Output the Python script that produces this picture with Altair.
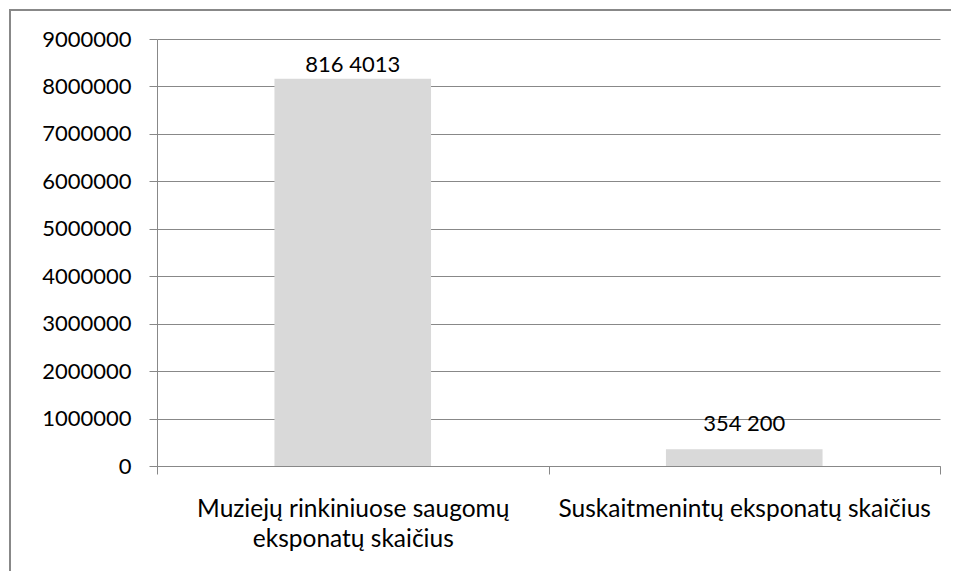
import altair as alt
import pandas as pd

categories = ["Muziejų rinkiniuose saugomų\neksponatų skaičius", "Suskaitmenintų eksponatų skaičius"]
values = [8164013, 354200]
value_labels = ["816 4013", "354 200"]
y_ticks = [0, 1000000, 2000000, 3000000, 4000000, 5000000, 6000000, 7000000, 8000000, 9000000]

df = pd.DataFrame({"cat": categories, "val": values, "lab": value_labels, "idx": [0, 1]})

FONT = "Lato"
GRAY = "#888888"

x_enc = alt.X(
    "cat:N",
    sort=categories,
    scale=alt.Scale(paddingInner=0, paddingOuter=0),
    axis=alt.Axis(
        title=None,
        labelAngle=0,
        tickBand="extent",
        tickSize=8,
        tickColor=GRAY,
        domainColor=GRAY,
        labelFont=FONT,
        labelFontSize=24.5,
        labelColor="#000000",
        labelPadding=23,
        labelLimit=0,
        labelLineHeight=30,
        labelExpr="split(datum.label, '\\n')",
        grid=False,
    ),
)
y_enc = alt.Y(
    "val:Q",
    scale=alt.Scale(domain=[0, 9000000], nice=False),
    axis=alt.Axis(
        title=None,
        values=y_ticks,
        format="d",
        grid=True,
        gridColor=GRAY,
        gridWidth=1,
        tickSize=8,
        tickColor=GRAY,
        domainColor=GRAY,
        labelFont=FONT,
        labelFontSize=22,
        labelColor="#000000",
        labelPadding=18,
    ),
)

base = alt.Chart(df)

bars = base.mark_bar(color="#D9D9D9", width=alt.RelativeBandSize(0.4)).encode(x=x_enc, y=y_enc)

text_style = dict(font=FONT, fontSize=22, color="#000000", baseline="alphabetic", align="center")
label1 = base.transform_filter("datum.idx == 0").mark_text(dy=-7, **text_style).encode(
    x=alt.X("cat:N", sort=categories), y="val:Q", text="lab:N"
)
label2 = base.transform_filter("datum.idx == 1").mark_text(dy=-18, **text_style).encode(
    x=alt.X("cat:N", sort=categories), y="val:Q", text="lab:N"
)

border = alt.Chart(pd.DataFrame({"a": [0]})).mark_rect(
    fill="transparent", stroke=GRAY, strokeWidth=2, clip=False
).encode(x=alt.value(-147), x2=alt.value(820), y=alt.value(-29), y2=alt.value(580))

chart = alt.layer(border, bars, label1, label2).properties(
    width=783,
    height=427,
    autosize=alt.AutoSizeParams(type="none"),
    padding={"left": 149, "top": 31, "right": 11, "bottom": 105},
).configure_view(stroke=None)

chart.save("out.html", embed_options={"renderer": "svg", "actions": False})
